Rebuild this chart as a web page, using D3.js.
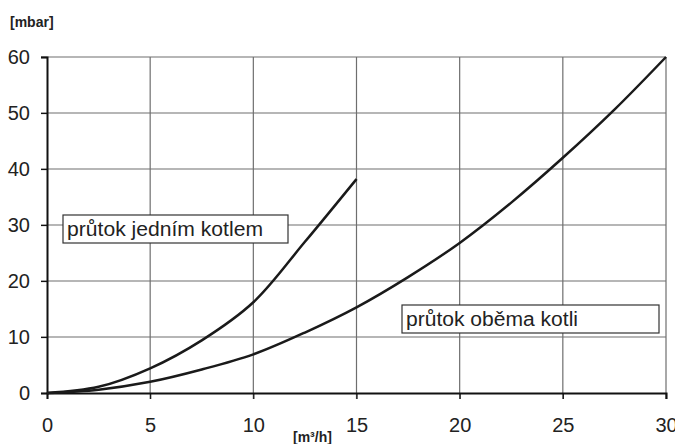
<!DOCTYPE html>
<html>
<head>
<meta charset="utf-8">
<script src="https://cdn.jsdelivr.net/npm/d3@7"></script>
<style>
  body { margin: 0; background: #fff; }
  text { font-family: "Liberation Sans", Arial, sans-serif; fill: #222; }
</style>
</head>
<body>
<div id="wrapper"></div>
<script>
// Hodnoty
const flowOne = [0, 2.5, 5, 7.5, 10, 12.5, 15];
const lossOne = [0, 1.1, 4.4, 9.4, 16.2, 27.0, 38.2];
const flowBoth = [0, 2.5, 5, 7.5, 10, 12.5, 15, 17.5, 20, 22.5, 25, 27.5, 30];
const lossBoth = [0, 0.6, 2.0, 4.2, 6.9, 10.8, 15.3, 20.7, 26.8, 34, 42, 50.6, 60];
const xTicks = [0, 5, 10, 15, 20, 25, 30];
const yTicks = [0, 10, 20, 30, 40, 50, 60];
const labelOne = "průtok jedním kotlem";
const labelBoth = "průtok oběma kotli";

function draw() {
  const width = 675, height = 444;
  const svg = d3.select("#wrapper").append("svg")
    .attr("width", width)
    .attr("height", height);

  const x = d3.scaleLinear().domain([0, 30]).range([47, 666]);
  const y = d3.scaleLinear().domain([0, 60]).range([393, 57]);

  // mřížka
  svg.append("g")
    .selectAll("line")
    .data(xTicks.slice(1))
    .enter().append("line")
    .attr("x1", d => x(d)).attr("x2", d => x(d))
    .attr("y1", y(60)).attr("y2", y(0) + 6)
    .attr("stroke", "#6e6e6e").attr("stroke-width", 1.2);
  svg.append("g")
    .selectAll("line")
    .data(yTicks.slice(1))
    .enter().append("line")
    .attr("x1", x(0) - 6).attr("x2", x(30))
    .attr("y1", d => y(d)).attr("y2", d => y(d))
    .attr("stroke", "#6e6e6e").attr("stroke-width", 1.2);

  // osy
  const yAxis = svg.append("g")
    .attr("transform", "translate(" + x(0) + ",0)")
    .call(d3.axisLeft(y).tickValues(yTicks).tickSize(6).tickPadding(11));
  yAxis.select(".domain").attr("stroke", "#111").attr("stroke-width", 2);
  yAxis.selectAll(".tick line").attr("stroke", "#111").attr("stroke-width", 1.2);
  yAxis.selectAll("text")
    .attr("font-size", 20).attr("fill", "#222")
    .attr("font-family", "Liberation Sans, Arial, sans-serif");

  const xAxis = svg.append("g")
    .attr("transform", "translate(0," + y(0) + ")")
    .call(d3.axisBottom(x).tickValues(xTicks).tickSize(6).tickPadding(19));
  xAxis.select(".domain").attr("stroke", "#111").attr("stroke-width", 2);
  xAxis.selectAll(".tick line").attr("stroke", "#111").attr("stroke-width", 1.2);
  xAxis.selectAll("text")
    .attr("font-size", 20).attr("fill", "#222")
    .attr("font-family", "Liberation Sans, Arial, sans-serif");

  // křivky
  const line = d3.line()
    .x(d => x(d[0]))
    .y(d => y(d[1]))
    .curve(d3.curveCatmullRom.alpha(0.5));

  svg.append("path")
    .attr("d", line(d3.zip(flowOne, lossOne)))
    .attr("fill", "none")
    .attr("stroke", "#1a1a1a")
    .attr("stroke-width", 2.5);
  svg.append("path")
    .attr("d", line(d3.zip(flowBoth, lossBoth)))
    .attr("fill", "none")
    .attr("stroke", "#1a1a1a")
    .attr("stroke-width", 2.5);

  // popisky křivek
  const boxes = [
    { text: labelOne, x0: 63, y0: 215, w: 225, h: 28, tw: 196 },
    { text: labelBoth, x0: 402, y0: 305, w: 257, h: 28, tw: 172 }
  ];
  boxes.forEach(b => {
    svg.append("rect")
      .attr("x", b.x0).attr("y", b.y0)
      .attr("width", b.w).attr("height", b.h)
      .attr("fill", "#fff")
      .attr("stroke", "#333")
      .attr("stroke-width", 1.2);
    svg.append("text")
      .attr("x", b.x0 + 4)
      .attr("y", b.y0 + 21)
      .attr("font-size", 20)
      .attr("textLength", b.tw)
      .attr("lengthAdjust", "spacingAndGlyphs")
      .text(b.text);
  });

  // jednotky
  svg.append("text")
    .attr("x", 10).attr("y", 27)
    .attr("font-size", 14).attr("font-weight", "bold")
    .text("[mbar]");
  svg.append("text")
    .attr("x", 293).attr("y", 442)
    .attr("font-size", 14).attr("font-weight", "bold")
    .text("[m³/h]");
}
draw();
</script>
</body>
</html>
